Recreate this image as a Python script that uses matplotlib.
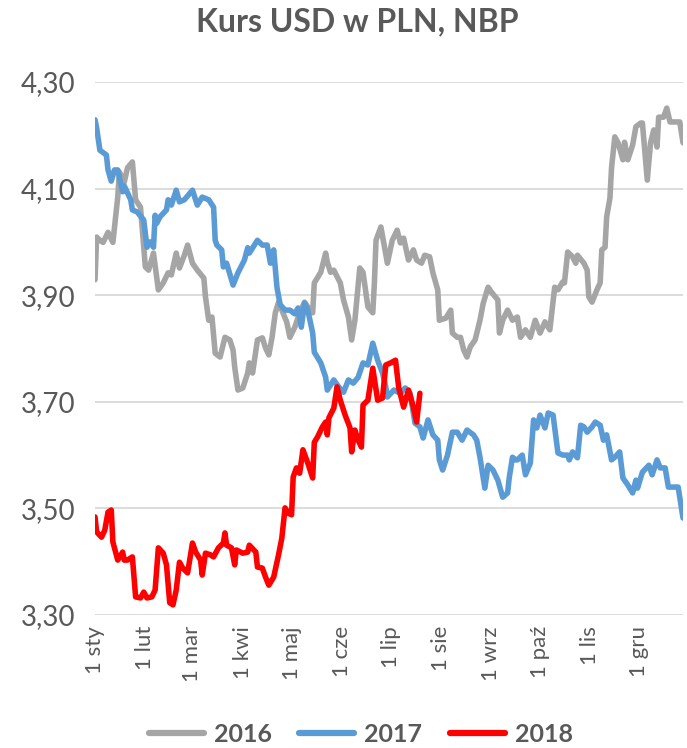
import matplotlib
matplotlib.use("Agg")
import matplotlib.pyplot as plt

plt.rcParams['font.family'] = ['Lato', 'DejaVu Sans']

#dzien roku (0 = 1 sty) i kurs
dni_2016 = [0, 1, 3, 5, 8, 11, 14, 15, 18, 20, 23, 25, 28, 31, 33, 36, 39, 42, 45, 47,
            50, 52, 55, 57, 60, 63, 67, 68, 70, 72, 74, 77, 80, 83, 85, 86, 88, 91, 94, 95,
            97, 100, 103, 105, 107, 109, 111, 113, 115, 118, 120, 123, 126, 129, 131, 134, 135, 139, 142, 143,
            145, 147, 151, 153, 156, 158, 160, 163, 165, 168, 171, 172, 173, 176, 180, 183, 186, 188, 190, 193,
            196, 198, 201, 203, 206, 208, 211, 212, 216, 219, 220, 223, 225, 227, 229, 231, 234, 237, 239, 242,
            244, 248, 249, 251, 254, 257, 260, 262, 265, 268, 271, 274, 277, 280, 283, 285, 288, 289, 291, 294,
            296, 297, 301, 303, 304, 306, 309, 311, 312, 314, 315, 317, 318, 320, 322, 325, 326, 328, 331, 333,
            336, 337, 340, 342, 344, 346, 347, 350, 352, 354, 357, 360, 362]
kurs_2016 = [3.929, 4.009, 4.003, 3.999, 4.018, 3.999, 4.084, 4.131, 4.112, 4.139, 4.150, 4.079, 4.065, 3.953, 3.947, 3.979, 3.910, 3.923, 3.942, 3.938,
             3.979, 3.951, 3.975, 3.994, 3.960, 3.947, 3.932, 3.897, 3.853, 3.859, 3.791, 3.784, 3.821, 3.816, 3.797, 3.765, 3.722, 3.726, 3.754, 3.773,
             3.754, 3.816, 3.820, 3.801, 3.788, 3.821, 3.867, 3.887, 3.872, 3.850, 3.821, 3.840, 3.867, 3.887, 3.878, 3.867, 3.923, 3.943, 3.979, 3.962,
             3.943, 3.947, 3.923, 3.891, 3.859, 3.816, 3.853, 3.951, 3.943, 3.878, 3.867, 3.923, 4.003, 4.028, 3.960, 4.003, 4.022, 3.998, 4.007, 3.966,
             3.985, 3.966, 3.960, 3.975, 3.972, 3.942, 3.910, 3.853, 3.857, 3.872, 3.829, 3.821, 3.821, 3.797, 3.784, 3.803, 3.816, 3.853, 3.885, 3.915,
             3.906, 3.891, 3.829, 3.853, 3.872, 3.853, 3.859, 3.821, 3.835, 3.821, 3.853, 3.829, 3.850, 3.835, 3.915, 3.910, 3.925, 3.923, 3.981, 3.972,
             3.960, 3.975, 3.960, 3.947, 3.897, 3.887, 3.910, 3.923, 3.985, 3.990, 4.047, 4.082, 4.139, 4.197, 4.186, 4.154, 4.187, 4.154, 4.182, 4.216,
             4.223, 4.223, 4.116, 4.186, 4.210, 4.178, 4.234, 4.234, 4.251, 4.225, 4.225, 4.225, 4.186]

dni_2017 = [0, 1, 3, 7, 8, 10, 12, 14, 17, 18, 22, 23, 26, 30, 32, 34, 36, 37, 38, 40,
            44, 45, 47, 50, 52, 55, 60, 63, 66, 70, 73, 74, 75, 78, 79, 81, 85, 88, 92, 94,
            95, 100, 103, 106, 108, 110, 112, 114, 117, 120, 123, 125, 127, 129, 131, 134, 135, 139, 142, 143,
            147, 150, 153, 156, 159, 162, 165, 168, 171, 174, 177, 179, 180, 184, 188, 191, 194, 197, 200, 202,
            205, 208, 211, 212, 214, 217, 220, 223, 226, 229, 233, 235, 237, 240, 242, 245, 248, 251, 254, 255,
            257, 259, 260, 263, 265, 268, 270, 272, 274, 277, 279, 282, 285, 288, 291, 292, 294, 297, 299, 301,
            303, 306, 308, 311, 313, 315, 318, 320, 323, 325, 328, 331, 333, 334, 337, 341, 343, 346, 348, 351,
            353, 356, 359, 362]
kurs_2017 = [4.229, 4.214, 4.172, 4.163, 4.135, 4.114, 4.135, 4.135, 4.094, 4.105, 4.079, 4.060, 4.056, 4.041, 3.990, 4.000, 3.990, 4.050, 4.035, 4.047,
             4.060, 4.079, 4.069, 4.097, 4.075, 4.079, 4.097, 4.069, 4.084, 4.079, 4.065, 4.003, 3.994, 3.985, 3.953, 3.960, 3.919, 3.942, 3.966, 3.989,
             3.979, 4.003, 3.994, 3.994, 3.960, 3.985, 3.915, 3.882, 3.872, 3.872, 3.865, 3.876, 3.840, 3.885, 3.872, 3.829, 3.793, 3.773, 3.746, 3.722,
             3.741, 3.728, 3.718, 3.741, 3.735, 3.746, 3.773, 3.769, 3.810, 3.778, 3.754, 3.728, 3.709, 3.722, 3.716, 3.726, 3.716, 3.660, 3.653, 3.632,
             3.666, 3.638, 3.628, 3.591, 3.572, 3.600, 3.643, 3.643, 3.628, 3.647, 3.638, 3.628, 3.596, 3.538, 3.581, 3.572, 3.553, 3.521, 3.529, 3.557,
             3.596, 3.591, 3.591, 3.600, 3.563, 3.585, 3.666, 3.651, 3.675, 3.651, 3.679, 3.675, 3.604, 3.600, 3.600, 3.591, 3.606, 3.595, 3.656, 3.653,
             3.643, 3.653, 3.662, 3.656, 3.628, 3.638, 3.591, 3.596, 3.606, 3.557, 3.544, 3.529, 3.553, 3.538, 3.568, 3.581, 3.563, 3.591, 3.576, 3.576,
             3.540, 3.540, 3.540, 3.482]

dni_2018 = [0, 1, 4, 6, 8, 10, 11, 14, 17, 18, 20, 23, 25, 28, 30, 32, 35, 37, 39, 42,
            44, 46, 48, 50, 52, 54, 57, 60, 62, 65, 66, 68, 71, 73, 76, 79, 80, 81, 84, 86,
            87, 91, 94, 95, 99, 100, 103, 105, 107, 110, 113, 115, 117, 119, 121, 122, 124, 126, 128, 131,
            134, 135, 137, 140, 142, 143, 144, 147, 149, 151, 154, 157, 158, 160, 162, 164, 165, 168, 171, 174,
            177, 179, 182, 185, 187, 190, 193, 196, 198, 200]
kurs_2018 = [3.484, 3.456, 3.446, 3.459, 3.493, 3.497, 3.437, 3.403, 3.418, 3.403, 3.403, 3.409, 3.334, 3.332, 3.343, 3.332, 3.334, 3.347, 3.426, 3.416,
             3.394, 3.323, 3.319, 3.347, 3.399, 3.388, 3.379, 3.435, 3.418, 3.403, 3.375, 3.416, 3.413, 3.409, 3.426, 3.435, 3.454, 3.431, 3.426, 3.394,
             3.422, 3.416, 3.418, 3.431, 3.418, 3.390, 3.388, 3.371, 3.356, 3.371, 3.413, 3.444, 3.501, 3.491, 3.488, 3.559, 3.576, 3.566, 3.610, 3.585,
             3.557, 3.624, 3.634, 3.653, 3.662, 3.638, 3.670, 3.688, 3.728, 3.703, 3.675, 3.651, 3.606, 3.647, 3.628, 3.615, 3.694, 3.703, 3.763, 3.703,
             3.707, 3.769, 3.773, 3.778, 3.726, 3.690, 3.722, 3.690, 3.662, 3.716]

#osie
miesiace_pozycje = [0, 31, 60, 91, 121, 152, 182, 213, 244, 274, 305, 335]
miesiace_etykiety = ["1 sty", "1 lut", "1 mar", "1 kwi", "1 maj", "1 cze",
                     "1 lip", "1 sie", "1 wrz", "1 paź", "1 lis", "1 gru"]
y_pozycje = [3.30, 3.50, 3.70, 3.90, 4.10, 4.30]
y_etykiety = ["3,30", "3,50", "3,70", "3,90", "4,10", "4,30"]

kolor_tekstu = "#595959"

fig = plt.figure(figsize=(6.87, 7.48), dpi=100)
ax = fig.add_axes([0.1383, 0.1778, 0.8559, 0.7126])

ax.plot(dni_2016, kurs_2016, color="#A5A5A5", linewidth=4, label="2016",
        solid_joinstyle="round", solid_capstyle="round")
ax.plot(dni_2017, kurs_2017, color="#5B9BD5", linewidth=4, label="2017",
        solid_joinstyle="round", solid_capstyle="round")
ax.plot(dni_2018, kurs_2018, color="#FF0000", linewidth=4, label="2018",
        solid_joinstyle="round", solid_capstyle="round")

ax.set_xlim(0, 362)
ax.set_ylim(3.30, 4.30)
ax.set_xticks(miesiace_pozycje)
ax.set_xticklabels(miesiace_etykiety, rotation=90, fontsize=16, color=kolor_tekstu)
ax.set_yticks(y_pozycje)
ax.set_yticklabels(y_etykiety, fontsize=20, color=kolor_tekstu)
ax.tick_params(axis="both", length=0)
ax.tick_params(axis="x", pad=8)
ax.tick_params(axis="y", pad=14)
ax.grid(axis="y", color="#D9D9D9", linewidth=1.3)
ax.set_axisbelow(True)
for s in ax.spines.values():
    s.set_visible(False)

fig.suptitle("Kurs USD w PLN, NBP", fontsize=23, fontweight="bold",
             color=kolor_tekstu, x=0.52, y=0.99)

leg = fig.legend(loc="center", bbox_to_anchor=(0.525, 0.018), ncol=3, frameon=False,
                 prop={"size": 18, "weight": "bold"}, handlelength=2.2,
                 columnspacing=1.1, handletextpad=0.4)
for t in leg.get_texts():
    t.set_color(kolor_tekstu)
for l in leg.get_lines():
    l.set_linewidth(4.5)
    l.set_solid_capstyle("round")

fig.savefig("out.png", dpi=100)
